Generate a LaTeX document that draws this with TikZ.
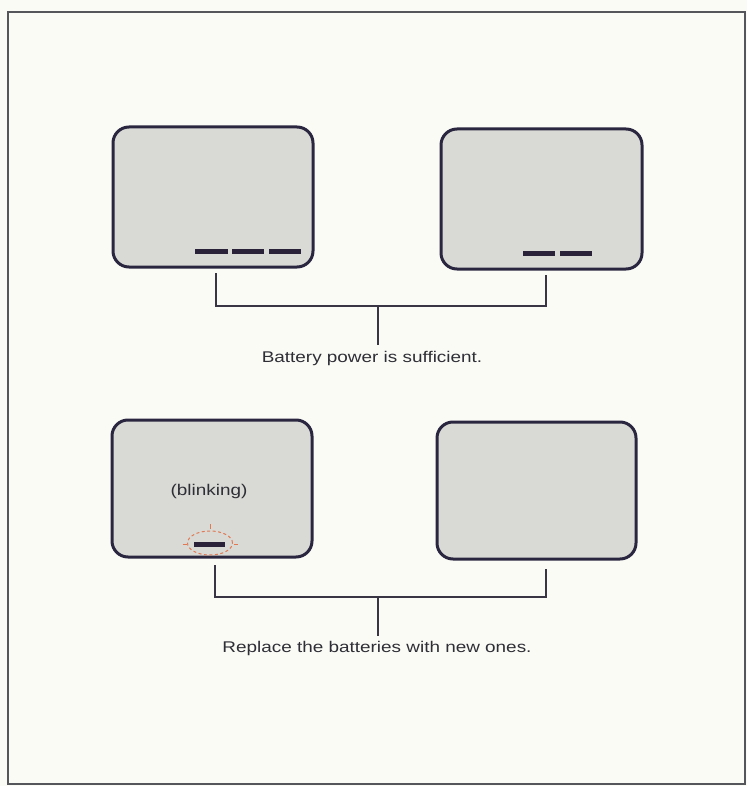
\documentclass[tikz,border=0pt]{standalone}
\usepackage{fontspec}
\setmainfont{Liberation Sans}
\begin{document}
\begin{tikzpicture}[x=1pt,y=-1pt,
  screen/.style={draw=scrline, line width=3pt, fill=scrfill, rounded corners=16pt},
  seg/.style={fill=segcol, draw=none},
  conn/.style={draw=conncol, line width=1.4pt},
  lbl/.style={font=\fontsize{15.5}{17}\selectfont, text=txtcol, inner sep=0pt},
  blink/.style={draw=blinkcol, line width=1pt, dash pattern=on 3pt off 2.5pt}]
\definecolor{bgcol}{HTML}{FBFBF6}
\definecolor{scrline}{HTML}{2B2640}
\definecolor{scrfill}{HTML}{D9DAD5}
\definecolor{segcol}{HTML}{2A2238}
\definecolor{conncol}{HTML}{3A3545}
\definecolor{txtcol}{HTML}{2E2E36}
\definecolor{blinkcol}{HTML}{E07A55}
\definecolor{framecol}{HTML}{55555C}
\useasboundingbox (0,0) rectangle (747,786);
\fill[bgcol] (0,0) rectangle (747,786);
\draw[framecol, line width=1.5pt] (8,12) rectangle (745,784);
% screens
\draw[screen] (113,127) rectangle (313,267);
\draw[screen] (441,129) rectangle (642,269);
\draw[screen] (112,420) rectangle (312,557);
\draw[screen] (437,422) rectangle (636,559);
% segments
\fill[seg] (195,248.5) rectangle (228,253.5);
\fill[seg] (232,248.5) rectangle (264,253.5);
\fill[seg] (269,248.5) rectangle (301,253.5);
\fill[seg] (523,250.5) rectangle (555,255.5);
\fill[seg] (560,250.5) rectangle (592,255.5);
\fill[seg] (194,541.5) rectangle (225,546.5);
% blink indicator
\draw[blink] (210,543) ellipse (22.5pt and 12pt);
\draw[blinkcol, line width=1pt] (210,524) -- (210,528.5);
\draw[blinkcol, line width=1pt] (182.5,544) -- (186.5,544);
\draw[blinkcol, line width=1pt] (233.5,544) -- (237.5,544);
\node[lbl] (blk) at (209,491) {\scalebox{1.22}[1]{(blinking)}};
% top connector
\coordinate (t1) at (216,273);
\coordinate (t2) at (546,275);
\coordinate (tm) at (378,306);
\draw[conn] (t1) -- (216,306) -- (546,306) -- (t2);
\node[lbl] (ttxt) at (372,358) {\scalebox{1.22}[1]{Battery power is sufficient.}};
\draw[conn] (tm) -- (378,345);
% bottom connector
\coordinate (b1) at (215,565);
\coordinate (b2) at (546,569);
\coordinate (bm) at (378,597);
\draw[conn] (b1) -- (215,597) -- (546,597) -- (b2);
\node[lbl] (btxt) at (377,648) {\scalebox{1.22}[1]{Replace the batteries with new ones.}};
\draw[conn] (bm) -- (378,636);
\end{tikzpicture}
\end{document}
